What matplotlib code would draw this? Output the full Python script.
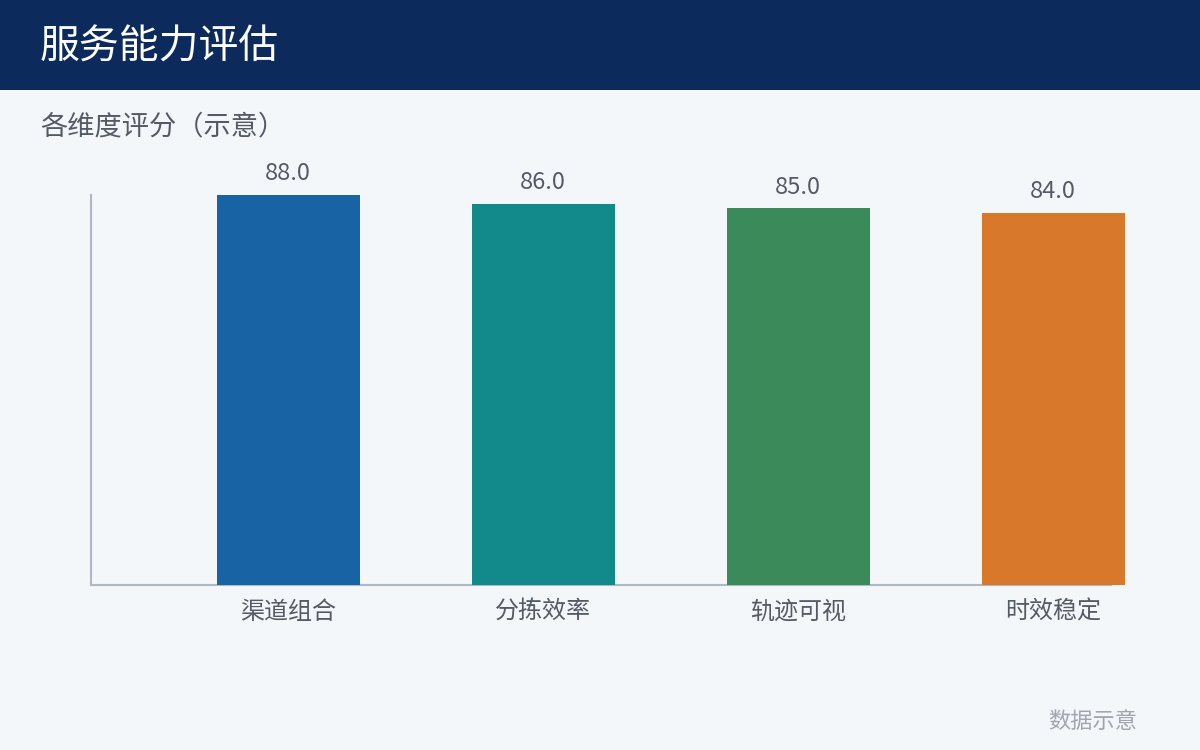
import matplotlib
matplotlib.use('Agg')
import matplotlib.pyplot as plt
from matplotlib.patches import Rectangle

plt.rcParams['font.family'] = ['Noto Sans CJK SC', 'DejaVu Sans']

# Data
categories = ['渠道组合', '分拣效率', '轨迹可视', '时效稳定']
scores = [88.0, 86.0, 85.0, 84.0]
colors = ['#1763A3', '#128A8C', '#3A8A5A', '#D7782A']

title = '服务能力评估'
subtitle = '各维度评分（示意）'
footer = '数据示意'

bg = '#F4F7FA'
fig = plt.figure(figsize=(12, 7.5), dpi=100, facecolor=bg)

# Header band
fig.patches.append(Rectangle((0, 1 - 90 / 750), 1, 90 / 750, transform=fig.transFigure,
                             facecolor='#0C2A5C', edgecolor='none', zorder=0))
fig.text(40 / 1200, 1 - 48 / 750, title, color='white', fontsize=28.7, va='center', ha='left')
fig.text(40 / 1200, 1 - 127 / 750, subtitle, color='#555B66', fontsize=19.6, va='center', ha='left')
fig.text(1137 / 1200, 1 - 722 / 750, footer, color='#A0A6B0', fontsize=16, va='center', ha='right')

ax = fig.add_axes([91 / 1200, 1 - 585 / 750, 1020 / 1200, 390 / 750])
ax.set_facecolor(bg)
x = list(range(len(categories)))
bars = ax.bar(x, scores, width=0.56, color=colors, zorder=3)
for b in bars:
    b.set_clip_on(False)
ax.set_xlim(-0.773, 3.227)
ax.set_ylim(0, 88)

# value labels
for xi, v in zip(x, scores):
    ax.annotate(f'{v:.1f}', (xi, v), xytext=(0, 7), textcoords='offset points',
                ha='center', va='bottom', fontsize=17, color='#555B66')

ax.set_xticks(x)
ax.set_xticklabels(categories, fontsize=17.3, color='#555B66')
ax.tick_params(axis='x', length=0, pad=10)
ax.set_yticks([])
for s in ['top', 'right']:
    ax.spines[s].set_visible(False)
for s in ['left', 'bottom']:
    ax.spines[s].set_color('#B0B8C4')
    ax.spines[s].set_linewidth(1.5)

fig.savefig('out.png', dpi=100, facecolor=bg)
